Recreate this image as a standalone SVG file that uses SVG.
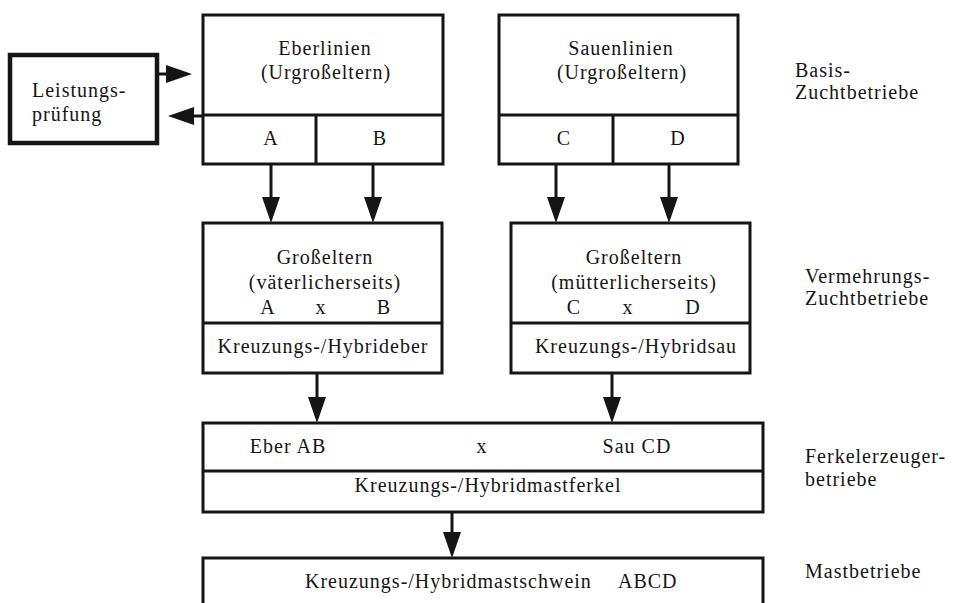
<svg xmlns="http://www.w3.org/2000/svg" width="953" height="603" viewBox="0 0 953 603">
  <style>
    .box { fill: #ffffff; stroke: #151515; stroke-width: 3; }
    .thick { fill: #ffffff; stroke: #151515; stroke-width: 4.5; }
    .div { stroke: #151515; stroke-width: 3; fill: none; }
    .lbl { font-family: "Liberation Serif", "Times New Roman", serif; font-size: 20px; letter-spacing: 1px; fill: #151515; }
    .c { text-anchor: middle; }
    .edge { stroke: #151515; stroke-width: 3; fill: none; marker-end: url(#head); }
  </style>
  <defs>
    <marker id="head" markerUnits="userSpaceOnUse" markerWidth="26" markerHeight="18" refX="0" refY="9" orient="auto">
      <path d="M0,0 L26,9 L0,18 Z" fill="#151515"/>
    </marker>
  </defs>
  <rect width="953" height="603" fill="#ffffff"/>

  <!-- connectors -->
  <g id="connectors">
    <line class="edge" x1="157" y1="74" x2="166" y2="74"/>
    <line class="edge" x1="203" y1="116" x2="194" y2="116"/>
    <line class="edge" x1="271" y1="164" x2="271" y2="197"/>
    <line class="edge" x1="373" y1="164" x2="373" y2="197"/>
    <line class="edge" x1="556" y1="164" x2="556" y2="197"/>
    <line class="edge" x1="669" y1="164" x2="669" y2="197"/>
    <line class="edge" x1="317" y1="373" x2="317" y2="397"/>
    <line class="edge" x1="612" y1="373" x2="612" y2="397"/>
    <line class="edge" x1="452" y1="512" x2="452" y2="532"/>
  </g>

  <!-- performance testing -->
  <g id="leistungspruefung">
    <rect class="thick" x="10" y="55" width="147" height="88"/>
    <text class="lbl" x="32" y="97">Leistungs-</text>
    <text class="lbl" x="32" y="121">prüfung</text>
  </g>

  <!-- boar lines -->
  <g id="eberlinien">
    <rect class="box" x="203" y="15" width="240" height="149"/>
    <line class="div" x1="203" y1="115" x2="443" y2="115"/>
    <line class="div" x1="316" y1="115" x2="316" y2="164"/>
    <text class="lbl c" x="325" y="55">Eberlinien</text>
    <text class="lbl c" x="326" y="79">(Urgroßeltern)</text>
    <text class="lbl c" x="271" y="145">A</text>
    <text class="lbl c" x="380" y="145">B</text>
  </g>

  <!-- sow lines -->
  <g id="sauenlinien">
    <rect class="box" x="499" y="15" width="239" height="149"/>
    <line class="div" x1="499" y1="115" x2="738" y2="115"/>
    <line class="div" x1="613" y1="115" x2="613" y2="164"/>
    <text class="lbl c" x="621" y="55">Sauenlinien</text>
    <text class="lbl c" x="622" y="79">(Urgroßeltern)</text>
    <text class="lbl c" x="564" y="145">C</text>
    <text class="lbl c" x="678" y="145">D</text>
  </g>

  <!-- grandparents, paternal -->
  <g id="grosseltern-vaeterlich">
    <rect class="box" x="203" y="223" width="239" height="150"/>
    <line class="div" x1="203" y1="323" x2="442" y2="323"/>
    <text class="lbl c" x="325" y="264">Großeltern</text>
    <text class="lbl c" x="325" y="289">(väterlicherseits)</text>
    <text class="lbl c" x="268" y="314">A</text>
    <text class="lbl c" x="321" y="314">x</text>
    <text class="lbl c" x="384" y="314">B</text>
    <text class="lbl c" x="323" y="353">Kreuzungs-/Hybrideber</text>
  </g>

  <!-- grandparents, maternal -->
  <g id="grosseltern-muetterlich">
    <rect class="box" x="511" y="223" width="239" height="150"/>
    <line class="div" x1="511" y1="323" x2="750" y2="323"/>
    <text class="lbl c" x="634" y="264">Großeltern</text>
    <text class="lbl c" x="634" y="289">(mütterlicherseits)</text>
    <text class="lbl c" x="574" y="314">C</text>
    <text class="lbl c" x="628" y="314">x</text>
    <text class="lbl c" x="693" y="314">D</text>
    <text class="lbl c" x="636" y="353">Kreuzungs-/Hybridsau</text>
  </g>

  <!-- piglet producer -->
  <g id="ferkelerzeuger">
    <rect class="box" x="203" y="423" width="560" height="89"/>
    <line class="div" x1="203" y1="471" x2="763" y2="471"/>
    <text class="lbl c" x="288" y="453">Eber AB</text>
    <text class="lbl c" x="482" y="453">x</text>
    <text class="lbl c" x="637" y="453">Sau CD</text>
    <text class="lbl c" x="488" y="492">Kreuzungs-/Hybridmastferkel</text>
  </g>

  <!-- fattening pig -->
  <g id="mastschwein">
    <rect class="box" x="203" y="558" width="560" height="60"/>
    <text class="lbl" x="305" y="588">Kreuzungs-/Hybridmastschwein<tspan x="618">ABCD</tspan></text>
  </g>

  <!-- stage labels -->
  <g id="stufen">
    <text class="lbl" x="795" y="77">Basis-</text>
    <text class="lbl" x="795" y="99">Zuchtbetriebe</text>
    <text class="lbl" x="805" y="283">Vermehrungs-</text>
    <text class="lbl" x="805" y="305">Zuchtbetriebe</text>
    <text class="lbl" x="805" y="463">Ferkelerzeuger-</text>
    <text class="lbl" x="805" y="486">betriebe</text>
    <text class="lbl" x="805" y="578">Mastbetriebe</text>
  </g>
</svg>
